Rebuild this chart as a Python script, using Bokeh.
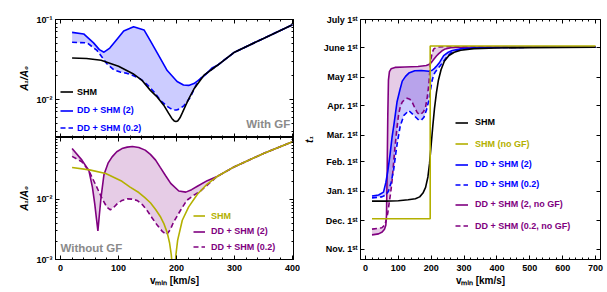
from bokeh.plotting import figure
from bokeh.models import (LinearAxis, LogAxis, FixedTicker, SingleIntervalTicker,
                          Legend, LegendItem, Label, CustomJSTickFormatter)
from bokeh.layouts import row, column
from bokeh.embed import file_html
from bokeh.resources import INLINE

FONT = "Liberation Sans"
BLUE = "#0000ff"
PURPLE = "#800080"
OLIVE = "#b3b000"
BLACK = "#000000"
GREY = "#8a8a8a"

# ---------------- data: top-left (With GF) ----------------
tl_shm_x = [20, 45, 70, 100, 125, 140, 155, 167, 178, 186, 192, 196, 199, 202, 206, 210, 216, 222, 230, 247,
            270, 300, 350, 400]
tl_shm_y = [0.033, 0.0325, 0.031, 0.026, 0.021, 0.0175, 0.013, 0.0107, 0.0085, 0.0068, 0.0058, 0.0054,
            0.0053, 0.0054, 0.0059, 0.0068, 0.0085, 0.0105, 0.0135, 0.020, 0.0266, 0.039, 0.058, 0.086]
tl_dd2_x = [20, 40, 57, 67, 75, 85, 95, 109, 126, 144, 155, 167, 184, 201, 212, 221, 230, 240, 250, 262, 270,
            300, 350, 400]
tl_dd2_y = [0.069, 0.066, 0.051, 0.042, 0.039, 0.044, 0.054, 0.072, 0.081, 0.074, 0.054, 0.038, 0.023,
            0.0168, 0.0152, 0.015, 0.0158, 0.0178, 0.0205, 0.025, 0.0266, 0.039, 0.058, 0.086]
tl_dd02_x = [20, 46, 63, 80, 92, 103, 115, 126, 138, 149, 161, 172, 184, 190, 195, 200, 205, 213, 224, 236,
             245, 270, 300, 350, 400]
tl_dd02_y = [0.052, 0.051, 0.041, 0.028, 0.0235, 0.022, 0.0212, 0.0198, 0.0180, 0.0155, 0.0125, 0.0098,
             0.0082, 0.0077, 0.0074, 0.0074, 0.0076, 0.0084, 0.0107, 0.0165, 0.0195, 0.0266, 0.039,
             0.058, 0.086]

# ---------------- data: bottom-left (Without GF) ----------------
bl_shm_x = [20, 50, 78, 106, 120, 135, 145, 155, 164, 172, 178, 184, 188, 191, 193, 195.3, 197.5, 199, 202,
            210, 221, 236, 253, 270, 300, 350, 400]
bl_shm_y = [0.034, 0.031, 0.027, 0.020, 0.016, 0.013, 0.0108, 0.0088, 0.0068, 0.0052, 0.0040, 0.0028, 0.0019,
            0.0012, 0.0007, 0.00005, 0.0007, 0.0012, 0.0021, 0.0045, 0.0075, 0.0122, 0.018, 0.024, 0.035,
            0.058, 0.091]
bl_dd2_x = [20, 37, 49, 55, 59, 62, 64.5, 67, 70, 75, 82, 89, 97, 106, 115, 124, 135, 146, 155, 164, 172,
            181, 190, 204, 216, 226, 236, 253, 270, 300, 350, 400]
bl_dd2_y = [0.070, 0.045, 0.030, 0.016, 0.0085, 0.0048, 0.003, 0.0055, 0.011, 0.026, 0.040, 0.051, 0.062,
            0.070, 0.074, 0.076, 0.073, 0.066, 0.056, 0.045, 0.034, 0.025, 0.0185, 0.0138, 0.0132,
            0.0145, 0.0165, 0.0205, 0.024, 0.035, 0.058, 0.091]
bl_dd02_x = [20, 37, 49, 60, 72, 80, 86, 92, 98, 106, 115, 124, 132, 141, 149.5, 158, 167, 176, 183, 189, 195,
             207, 218, 230, 241, 270, 300, 350, 400]
bl_dd02_y = [0.052, 0.042, 0.030, 0.018, 0.0102, 0.0074, 0.0067, 0.0074, 0.0085, 0.0096, 0.0102, 0.0101,
             0.0096, 0.0082, 0.0065, 0.0049, 0.0037, 0.0029, 0.0026, 0.0031, 0.0042, 0.0066, 0.0097,
             0.0118, 0.0137, 0.024, 0.035, 0.058, 0.091]

# ---------------- data: right (t1, days after Nov. 1st) ----------------
month_ticks = [0, 30, 61, 92, 120, 151, 181, 212, 242]
month_labels = ["Nov. 1ˢᵗ", "Dec. 1ˢᵗ", "Jan. 1ˢᵗ", "Feb. 1ˢᵗ", "Mar. 1ˢᵗ", "Apr. 1ˢᵗ",
                "May 1ˢᵗ", "June 1ˢᵗ", "July 1ˢᵗ"]

r_shm_x = [20, 60, 100, 130, 152, 165, 175, 183, 190, 195, 200, 205, 210, 216, 222, 230, 240, 254, 270,
           290, 330, 400, 500, 600, 700]
r_shm_y = [50.5, 50.5, 51, 52, 53, 55, 59, 65, 76, 90, 110, 130, 148, 165, 178, 189, 198, 204, 207.5,
           209.5, 211.3, 212, 212.4, 212.6, 212.8]
r_shmng_x = [20, 197, 197, 700]
r_shmng_y = [32, 32, 214, 214]
r_dd2_x = [20, 40, 55, 62, 68, 75, 81, 87, 96, 105, 112, 122, 132, 150, 170, 193, 203, 210, 218, 226, 238,
           252, 264, 290, 330, 400, 500, 700]
r_dd2_y = [56, 57, 60, 70, 82, 100, 118, 132, 155, 168, 177, 182, 185.5, 188, 188.3, 187.5, 188.5, 190.5,
           193.5, 197, 204, 207.5, 209.3, 211, 212, 212.5, 212.7, 212.8]
r_dd02_x = [20, 50, 62, 70, 78, 86, 92, 97, 106, 117, 132, 147, 162, 170, 178, 186, 193, 198, 203, 208, 213,
            220, 228, 244, 260, 290, 330, 400, 500, 700]
r_dd02_y = [54, 55, 57, 61, 70, 84, 100, 112, 130, 141, 146, 141, 136, 136, 139, 147, 157, 168, 178, 184,
            187, 190, 193.5, 201, 207, 210.5, 212, 212.5, 212.7, 212.8]
r_dd2ng_x = [20, 40, 51, 58, 62, 64, 66, 68, 70, 73, 78, 90, 120, 160, 185, 193, 200, 208, 216, 223, 233,
             243, 260, 290, 350, 500, 700]
r_dd2ng_y = [15, 16, 18, 21, 25, 35, 80, 140, 178, 187, 190, 191.5, 192, 192.5, 193.5, 194.5, 196.5, 200,
             203.5, 206, 209, 211, 212.3, 212.8, 213, 213, 213]
r_dd02ng_x = [20, 50, 58, 63, 68, 72, 77, 81, 86, 90, 96, 101, 106, 112, 120, 127, 135, 142, 150, 157, 163,
              170, 177, 183, 188, 193, 198, 203, 208, 215, 223, 240, 300, 700]
r_dd02ng_y = [21, 22.5, 25, 30, 38, 48, 60, 72, 92, 108, 128, 142, 150, 155, 158, 159, 158, 155, 149,
              144.3, 142, 142.5, 145, 150, 160, 174, 198, 207, 211, 212.5, 213, 213.3, 213.3, 213.3]

# log tick labels
top_log_ticks = [0.01, 0.1]
top_log_labels = ["10⁻²", "10⁻¹"]
bot_log_ticks = [0.001, 0.01]
bot_log_labels = ["10⁻³", "10⁻²"]
log_minor = [k * 10.0 ** e for e in (-4, -3, -2, -1) for k in range(1, 10)]


def style_axis(ax, ticker, labels=True, overrides=None):
    ax.ticker = ticker
    ax.axis_line_color = "black"
    ax.axis_line_width = 1
    ax.major_tick_in = 4
    ax.major_tick_out = 0
    ax.minor_tick_in = 2
    ax.minor_tick_out = 0
    ax.major_tick_line_color = "black"
    ax.minor_tick_line_color = "black"
    if labels:
        ax.major_label_text_font = FONT
        ax.major_label_text_font_style = "bold"
        ax.major_label_text_font_size = "9px"
        ax.major_label_text_color = "black"
        ax.major_label_standoff = 3
        if overrides:
            ax.major_label_overrides = overrides
    else:
        ax.formatter = CustomJSTickFormatter(code="return ''")
        ax.major_label_text_font_size = "0px"
        ax.major_label_standoff = 0


def style_label(ax, text, italic=False, standoff=3):
    ax.axis_label = text
    ax.axis_label_text_font = FONT
    ax.axis_label_text_font_style = "bold italic" if italic else "bold"
    ax.axis_label_text_font_size = "10px"
    ax.axis_label_text_color = "black"
    ax.axis_label_standoff = standoff


def base(p):
    p.outline_line_color = "black"
    p.outline_line_width = 1
    p.xgrid.visible = False
    p.ygrid.visible = False
    p.background_fill_color = "white"
    p.border_fill_color = "white"


def add_leg(p, r, label, color, x, y, gw, standoff):
    leg = Legend(items=[LegendItem(label=label, renderers=[r])], location=(x, y),
                 padding=0, margin=0, spacing=0, glyph_width=gw, glyph_height=11,
                 label_height=11, label_width=10, label_standoff=standoff,
                 label_text_font=FONT, label_text_font_style="bold",
                 label_text_font_size="9px", label_text_color=color,
                 border_line_alpha=0, background_fill_alpha=0)
    p.add_layout(leg)


LW = 1.6
DASH = "5 3"
XR = (-8.6, 401.7)

# ---------------- top-left ----------------
p1 = figure(frame_width=238, frame_height=118, x_range=XR, y_range=(0.00335, 0.1),
            y_axis_type="log", output_backend="svg", toolbar_location=None,
            min_border_left=55, min_border_right=7, min_border_top=19, min_border_bottom=0)
base(p1)
style_axis(p1.xaxis[0], SingleIntervalTicker(interval=100, num_minor_ticks=5), labels=False)
style_axis(p1.yaxis[0], FixedTicker(ticks=top_log_ticks, minor_ticks=log_minor),
           overrides=dict(zip(top_log_ticks, top_log_labels)))
style_label(p1.yaxis[0], "A₁/A₀", italic=True)
ax = LinearAxis()
style_axis(ax, SingleIntervalTicker(interval=100, num_minor_ticks=5), labels=False)
p1.add_layout(ax, "above")
ax = LogAxis()
style_axis(ax, FixedTicker(ticks=top_log_ticks, minor_ticks=log_minor), labels=False)
p1.add_layout(ax, "right")

p1.patch(tl_dd2_x + tl_dd02_x[::-1], tl_dd2_y + tl_dd02_y[::-1], fill_color=BLUE, fill_alpha=0.2,
         line_color=None)
r_b2 = p1.line(tl_dd2_x, tl_dd2_y, line_color=BLUE, line_width=LW)
r_b02 = p1.line(tl_dd02_x, tl_dd02_y, line_color=BLUE, line_width=LW, line_dash=DASH)
r_k = p1.line(tl_shm_x, tl_shm_y, line_color=BLACK, line_width=LW)
add_leg(p1, r_k, "SHM", BLACK, 5, 40, 13, 4)
add_leg(p1, r_b2, "DD + SHM (2)", BLUE, 5, 21.5, 13, 4)
add_leg(p1, r_b02, "DD + SHM (0.2)", BLUE, 5, 4, 13, 4)
p1.add_layout(Label(x=396, y=0.0049, text="With GF", text_align="right", text_baseline="middle",
                    text_font=FONT, text_font_style="bold", text_font_size="11.5px",
                    text_color=GREY))

# ---------------- bottom-left ----------------
p2 = figure(frame_width=238, frame_height=122, x_range=XR, y_range=(0.001, 0.107),
            y_axis_type="log", output_backend="svg", toolbar_location=None,
            min_border_left=55, min_border_right=7, min_border_top=0, min_border_bottom=32)
base(p2)
style_axis(p2.xaxis[0], SingleIntervalTicker(interval=100, num_minor_ticks=5))
p2.xaxis[0].major_label_standoff = 5
style_label(p2.xaxis[0], "vₘᵢₙ [km/s]", standoff=1)
style_axis(p2.yaxis[0], FixedTicker(ticks=bot_log_ticks, minor_ticks=log_minor),
           overrides=dict(zip(bot_log_ticks, bot_log_labels)))
style_label(p2.yaxis[0], "A₁/A₀", italic=True)
ax = LinearAxis()
style_axis(ax, SingleIntervalTicker(interval=100, num_minor_ticks=5), labels=False)
p2.add_layout(ax, "above")
ax = LogAxis()
style_axis(ax, FixedTicker(ticks=bot_log_ticks, minor_ticks=log_minor), labels=False)
p2.add_layout(ax, "right")

p2.patch(bl_dd2_x + bl_dd02_x[::-1], bl_dd2_y + bl_dd02_y[::-1], fill_color=PURPLE, fill_alpha=0.2,
         line_color=None)
r_p2 = p2.line(bl_dd2_x, bl_dd2_y, line_color=PURPLE, line_width=LW)
r_p02 = p2.line(bl_dd02_x, bl_dd02_y, line_color=PURPLE, line_width=LW, line_dash=DASH)
r_y = p2.line(bl_shm_x, bl_shm_y, line_color=OLIVE, line_width=LW)
add_leg(p2, r_y, "SHM", OLIVE, 138, 38, 12, 6)
add_leg(p2, r_p2, "DD + SHM (2)", PURPLE, 138, 22.5, 12, 6)
add_leg(p2, r_p02, "DD + SHM (0.2)", PURPLE, 138, 7, 12, 6)
p2.add_layout(Label(x=0, y=0.00156, text="Without GF", text_align="left", text_baseline="middle",
                    text_font=FONT, text_font_style="bold", text_font_size="11.5px",
                    text_color=GREY))

# ---------------- right ----------------
p3 = figure(frame_width=240, frame_height=240, x_range=(-15, 715), y_range=(-11, 242),
            output_backend="svg", toolbar_location=None,
            min_border_left=55, min_border_right=11, min_border_top=19, min_border_bottom=32)
base(p3)
style_axis(p3.xaxis[0], SingleIntervalTicker(interval=100, num_minor_ticks=5))
p3.xaxis[0].major_label_standoff = 5
style_label(p3.xaxis[0], "vₘᵢₙ [km/s]", standoff=1)
style_axis(p3.yaxis[0], FixedTicker(ticks=month_ticks, minor_ticks=[]),
           overrides=dict(zip(month_ticks, month_labels)))
style_label(p3.yaxis[0], "t₁", italic=True, standoff=6)
ax = LinearAxis()
style_axis(ax, SingleIntervalTicker(interval=100, num_minor_ticks=5), labels=False)
p3.add_layout(ax, "above")
ax = LinearAxis()
style_axis(ax, FixedTicker(ticks=month_ticks, minor_ticks=[]), labels=False)
p3.add_layout(ax, "right")

p3.patch(r_dd2ng_x + r_dd02ng_x[::-1], r_dd2ng_y + r_dd02ng_y[::-1], fill_color=PURPLE, fill_alpha=0.2,
         line_color=None)
p3.patch(r_dd2_x + r_dd02_x[::-1], r_dd2_y + r_dd02_y[::-1], fill_color=BLUE, fill_alpha=0.2,
         line_color=None)
rr_p2 = p3.line(r_dd2ng_x, r_dd2ng_y, line_color=PURPLE, line_width=LW)
rr_p02 = p3.line(r_dd02ng_x, r_dd02ng_y, line_color=PURPLE, line_width=LW, line_dash=DASH)
rr_b2 = p3.line(r_dd2_x, r_dd2_y, line_color=BLUE, line_width=LW)
rr_b02 = p3.line(r_dd02_x, r_dd02_y, line_color=BLUE, line_width=LW, line_dash=DASH)
rr_k = p3.line(r_shm_x, r_shm_y, line_color=BLACK, line_width=LW)
rr_y = p3.line(r_shmng_x, r_shmng_y, line_color=OLIVE, line_width=LW)

rows_y = [131.5, 110, 89.5, 69.5, 49.5, 28]
add_leg(p3, rr_k, "SHM", BLACK, 95, rows_y[0], 13, 7)
add_leg(p3, rr_y, "SHM (no GF)", OLIVE, 95, rows_y[1], 13, 7)
add_leg(p3, rr_b2, "DD + SHM (2)", BLUE, 95, rows_y[2], 13, 7)
add_leg(p3, rr_b02, "DD + SHM (0.2)", BLUE, 95, rows_y[3], 13, 7)
add_leg(p3, rr_p2, "DD + SHM (2, no GF)", PURPLE, 95, rows_y[4], 13, 7)
add_leg(p3, rr_p02, "DD + SHM (0.2, no GF)", PURPLE, 95, rows_y[5], 13, 7)

layout = row(column(p1, p2), p3)
open("out.html", "w").write(file_html(layout, INLINE))
